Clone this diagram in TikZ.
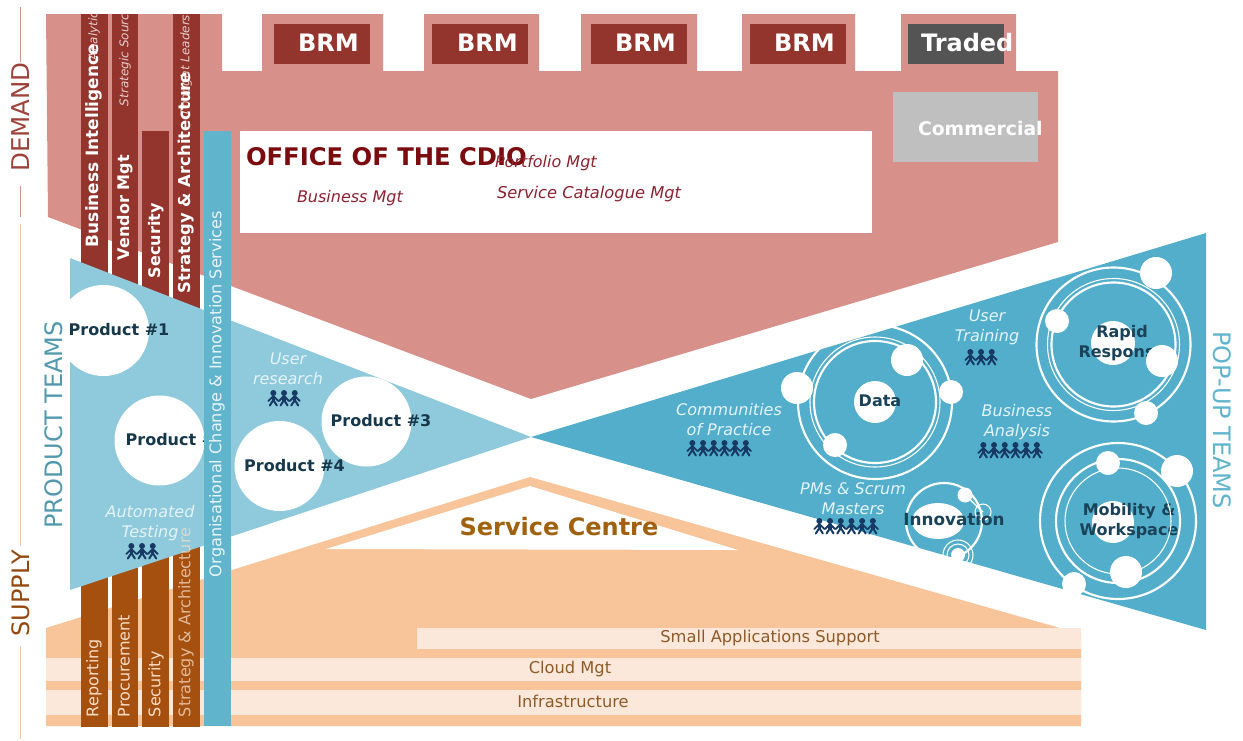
\documentclass[tikz,border=0pt]{standalone}
\usepackage{fontspec}
\setmainfont{DejaVu Sans}
\definecolor{pinkbg}{HTML}{D8918A}
\definecolor{darkred}{HTML}{94352D}
\definecolor{orangebg}{HTML}{F8C49A}
\definecolor{darkorange}{HTML}{A5500F}
\definecolor{palestrip}{HTML}{FBE8DA}
\definecolor{lightblue}{HTML}{8ECADB}
\definecolor{midblue}{HTML}{52AECB}
\definecolor{barblue}{HTML}{60B4CC}
\definecolor{navy}{HTML}{163A63}
\definecolor{inkdark}{HTML}{16384A}
\definecolor{inkorbit}{HTML}{1A4258}
\definecolor{italicpale}{HTML}{E4F3F7}
\definecolor{cdio}{HTML}{7A0C10}
\definecolor{cdioit}{HTML}{8B2230}
\definecolor{svctxt}{HTML}{A0620F}
\definecolor{stripeink}{HTML}{8F5A28}
\definecolor{lowbar}{HTML}{F8DCC6}
\newcommand\fs[1]{\fontsize{#1}{15}\selectfont}
\newcommand\peoplerow[3]{%
  \foreach \i in {1,...,#3}{%
    \pgfmathsetmacro\cx{#1+(\i-0.5)*10.7}
    \fill[navy] (\cx,#2+3) circle (3);
    \draw[navy,line width=2.6pt] (\cx,#2+6) -- (\cx,#2+11);
    \draw[navy,line width=1.4pt,line cap=round] (\cx-5,#2+11) -- (\cx,#2+6) -- (\cx+5,#2+11);
    \draw[navy,line width=1.5pt,line cap=round] (\cx-3.5,#2+15.5) -- (\cx,#2+10) -- (\cx+3.5,#2+15.5);
  }%
}
\tikzset{
  txt/.style={inner sep=0pt,outer sep=0pt,align=center},
  vbold/.style={txt,rotate=90,font=\fs{12}\bfseries,text=white},
  vreg/.style={txt,rotate=90,anchor=west,font=\fs{12},text=#1},
  vit/.style={txt,rotate=90,anchor=west,font=\fs{9}\itshape,text=#1},
  brm/.style={txt,anchor=west,font=\fs{18}\bfseries,text=white},
  ital/.style={txt,font=\fs{12}\itshape,text=italicpale},
  prod/.style={txt,font=\fs{12}\bfseries,text=inkdark},
  orb/.style={txt,font=\fs{12}\bfseries,text=inkorbit},
  big/.style={txt,font=\fs{18},text=#1},
  stripetxt/.style={txt,font=\fs{12.2},text=stripeink},
  ringa/.style={draw=white,line width=1.6pt},
  ringb/.style={draw=white,line width=.8pt},
  spot/.style={fill=white},
  side/.style={line width=1.2pt,#1}
}
\begin{document}
\begin{tikzpicture}[x=0.75pt,y=-0.75pt]
\useasboundingbox (0,0) rectangle (1243,740);
% side rules
\draw[side=pinkbg] (20.5,7) -- (20.5,62);
\draw[side=pinkbg] (20.5,186) -- (20.5,217);
\draw[side=orangebg] (20.5,224) -- (20.5,546);
\draw[side=orangebg] (20.5,646) -- (20.5,739);
% demand block
\fill[pinkbg] (46,14) -- (222,14) -- (222,71) -- (262,71) -- (262,14) -- (383,14) -- (383,71)
  -- (424,71) -- (424,14) -- (539,14) -- (539,71) -- (581,71) -- (581,14) -- (697,14) -- (697,71)
  -- (742,71) -- (742,14) -- (855,14) -- (855,71) -- (901,71) -- (901,14) -- (1016,14) -- (1016,71)
  -- (1058,71) -- (1058,242) -- (531,399) -- (48,217) -- cycle;
\fill[white] (240,131) rectangle (872,233);
\fill[darkred] (274,24) rectangle (370,64);
\fill[darkred] (432,24) rectangle (528,64);
\fill[darkred] (591,24) rectangle (687,64);
\fill[darkred] (750,24) rectangle (846,64);
\fill[black!67] (908,24) rectangle (1004,64);
\fill[black!25] (893,92) rectangle (1038,162);
% supply block
\fill[orangebg] (46,628) -- (530,477) -- (1081,634) -- (1081,726) -- (46,726) -- cycle;
\fill[white] (326,549) -- (530,486) -- (738,550) -- cycle;
\fill[palestrip] (417,628) rectangle (1081,649);
\fill[palestrip] (46,658) rectangle (1081,681);
\fill[palestrip] (46,690) rectangle (1081,715);
% upper and lower columns
\fill[darkred] (81,14) rectangle (108,290);
\fill[darkred] (112,14) rectangle (138,300);
\fill[darkred] (142,131) rectangle (169,310);
\fill[darkred] (173,14) rectangle (200,320);
\fill[darkorange] (81,560) rectangle (108,727);
\fill[darkorange] (112,560) rectangle (138,727);
\fill[darkorange] (142,550) rectangle (169,727);
\fill[darkorange] (173,540) rectangle (200,727);
% team triangles
\fill[lightblue] (70,258) -- (531,437) -- (70,590) -- cycle;
\fill[midblue] (531,437) -- (1206,233) -- (1206,630) -- cycle;
% product circles
\fill[white] (103.5,330.5) circle (45.5);
\fill[white] (159.5,440.5) circle (45);
\fill[white] (279.5,466) circle (45);
\fill[white] (366.5,421.5) circle (45);
\node[prod] (p1) at (119,330) {Product \#1};
\node[prod] (p2) at (176,440) {Product \#2};
\node[prod] (p3) at (381,421) {Product \#3};
\node[prod] (p4) at (294.5,466) {Product \#4};
% central vertical band
\fill[barblue] (204,131) rectangle (231,726);
\node[vreg=white!85!barblue,font=\fs{12.1}] (org) at (217,577) {Organisational Change \& Innovation Services};
% upper column text
\begin{scope}
\clip (81,14) rectangle (200,300);
\node[vit=white!75!darkred] (ana) at (94,60) {Analytics};
\node[vit=white!75!darkred] (sou) at (125,106) {Strategic Sourcing};
\node[vit=white!75!darkred] (tho) at (186,116) {Thought Leadership};
\end{scope}
\node[vbold,anchor=west,font=\fs{12.7}\bfseries] (bi) at (94,247) {Business Intelligence};
\node[vbold,anchor=west] (vm) at (125,260) {Vendor Mgt};
\node[vbold,anchor=west] (sec) at (156,278) {Security};
\node[vbold,anchor=west,font=\fs{12.3}\bfseries] (sa) at (186,293) {Strategy \& Architecture};
% lower column text
\node[vreg=lowbar] (rep) at (94,717) {Reporting};
\node[vreg=lowbar] (pro) at (124,717) {Procurement};
\node[vreg=lowbar] (sl) at (156,717) {Security};
\node[vreg=lowbar,opacity=.75] (sal) at (186,717) {Strategy \& Architecture};
% top boxes text
\node[brm] (b1) at (298,43) {BRM};
\node[brm] (b2) at (457,43) {BRM};
\node[brm] (b3) at (615,43) {BRM};
\node[brm] (b4) at (774,43) {BRM};
\node[brm] (tr) at (921,43) {Traded};
\node[brm,font=\fs{14.1}\bfseries] (co) at (918,128) {Commercial};
% office
\node[txt,anchor=west,font=\fs{18.2}\bfseries,text=cdio] (office) at (246,157) {OFFICE OF THE CDIO};
\node[txt,anchor=west,font=\fs{12}\itshape,text=cdioit] (pf) at (495,163) {Portfolio Mgt};
\node[txt,anchor=west,font=\fs{12}\itshape,text=cdioit] (bm) at (297,198) {Business Mgt};
\node[txt,anchor=west,font=\fs{12.2}\itshape,text=cdioit] (sc) at (497,194) {Service Catalogue Mgt};
% service centre and stripes
\node[txt,font=\fs{18}\bfseries,text=svctxt] (svc) at (559,527) {Service Centre};
\node[stripetxt] (sm) at (770,638) {Small Applications Support};
\node[stripetxt] (cl) at (570,669) {Cloud Mgt};
\node[stripetxt] (inf) at (573,701) {Infrastructure};
% left captions
\node[txt,ital] (ur) at (288,369) {User\\research};
\node[txt,ital] (at) at (150,523) {Automated\\Testing};
\node[txt,ital] (cp) at (729,420) {Communities\\of Practice};
\node[txt,ital] (pm) at (853,499) {PMs \& Scrum\\Masters};
\node[txt,ital] (ut) at (987,327) {User\\Training};
\node[txt,ital] (ba) at (1017,422) {Business\\Analysis};
\peoplerow{268}{390}{3}
\peoplerow{126}{543}{3}
\peoplerow{687}{440}{6}
\peoplerow{814}{518}{6}
\peoplerow{965}{349}{3}
\peoplerow{978}{442}{6}
% Data orbit
\fill[spot] (875,402) circle (21);
\node[orb] (data) at (880,401) {Data};
\draw[ringa] (875,402) circle (77);
\draw[ringa] (875,402) circle (61);
\draw[ringb] (875,402) circle (65);
\fill[spot] (797,388) circle (16);
\fill[spot] (907,360) circle (16);
\fill[spot] (951,392) circle (12);
\fill[spot] (835,445) circle (12);
% Rapid response orbit
\fill[spot] (1113,343) circle (22);
\node[orb] (rapid) at (1122,343) {Rapid\\Response};
\draw[ringa] (1113.5,344.5) circle (77);
\draw[ringa] (1113.5,344.5) circle (62);
\draw[ringb] (1113.5,344.5) circle (66);
\fill[spot] (1156,273) circle (16);
\fill[spot] (1057,321) circle (12);
\fill[spot] (1162,361) circle (16);
\fill[spot] (1146,413) circle (12);
% Mobility orbit
\fill[spot] (1113,522) circle (21);
\node[orb] (mob) at (1129,521) {Mobility \&\\Workspace};
\draw[ringa] (1118,521) circle (78);
\draw[ringa] (1118,521) circle (62);
\draw[ringb] (1118,521) circle (53);
\fill[spot] (1108,463) circle (12);
\fill[spot] (1177,471) circle (16);
\fill[spot] (1074,584) circle (12);
\fill[spot] (1126,572) circle (16);
% Innovation orbit
\fill[spot] (938,521) ellipse (26 and 18);
\draw[ringa] (944,521) circle (38);
\fill[spot] (965,495) circle (7.5);
\draw[ringb] (983,512) circle (8);
\draw[ringb] (958,555) circle (11);
\draw[ringb] (958,555) circle (15);
\fill[spot] (958,555) circle (7);
\draw[ringa,line width=1pt] (965,495) -- (983,512);
\node[orb,font=\fs{12.6}\bfseries] (inn) at (954,519) {Innovation};
% big rotated labels
\node[big=darkred!85!pinkbg,rotate=90,font=\fs{18.4}] (dem) at (21,117) {DEMAND};
\node[big=darkorange!90!black,rotate=90] (sup) at (21,593) {SUPPLY};
\node[big=barblue!85!black,rotate=90] (pt) at (54,425) {PRODUCT TEAMS};
\node[big=barblue,rotate=-90] (pu) at (1222,420) {POP-UP TEAMS};
\end{tikzpicture}
\end{document}
